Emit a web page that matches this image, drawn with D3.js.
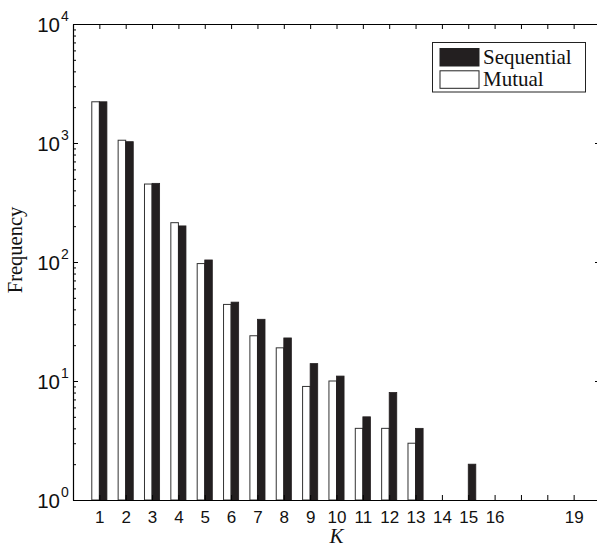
<!DOCTYPE html>
<html>
<head>
<meta charset="utf-8">
<script src="https://cdn.jsdelivr.net/npm/d3@7"></script>
<style>
  body { margin: 0; background: #fff; }
  svg { display: block; }
</style>
</head>
<body>
<svg></svg>
<script>
const width = 597;
const height = 547;

// data
const ks = [1, 2, 3, 4, 5, 6, 7, 8, 9, 10, 11, 12, 13, 14, 15, 16, 17, 18, 19];
const mutual = [2220, 1055, 452, 214, 97, 44, 24, 19, 9, 10, 4, 4, 3, 0, 0, 0, 0, 0, 0];
const sequential = [2220, 1026, 458, 201, 104, 46, 33, 23, 14, 11, 5, 8, 4, 0, 2, 0, 0, 0, 0];
const xTickLabels = ['1', '2', '3', '4', '5', '6', '7', '8', '9', '10', '11', '12', '13', '14', '15', '16', '', '', '19'];
const yMajor = [1, 10, 100, 1000, 10000];
const yExponents = ['0', '1', '2', '3', '4'];

const mLeft = 73, mRight = 600, mTop = 24, mBottom = 500;

const svg = d3.select('svg')
  .attr('width', width)
  .attr('height', height);

const x = d3.scaleLinear()
  .domain([0, 20])
  .range([mLeft, mRight]);

const y = d3.scaleLog()
  .domain([1, 10000])
  .range([mBottom, mTop]);

const bw = x(0.287) - x(0);
const black = '#231f20';

// minor log ticks
const yMinor = [];
for (let e = 0; e < 4; e++) {
  for (let m = 2; m <= 9; m++) yMinor.push(m * Math.pow(10, e));
}

const g = svg.append('g');

// bars
g.selectAll('rect.mutual')
  .data(ks.filter((k, i) => mutual[i] > 0))
  .enter()
  .append('rect')
  .attr('class', 'mutual')
  .attr('x', k => x(k) - bw)
  .attr('y', k => y(mutual[k - 1]))
  .attr('width', bw)
  .attr('height', k => y(1) - y(mutual[k - 1]))
  .attr('fill', '#fff')
  .attr('stroke', '#333')
  .attr('stroke-width', 1);

g.selectAll('rect.seq')
  .data(ks.filter((k, i) => sequential[i] > 0))
  .enter()
  .append('rect')
  .attr('class', 'seq')
  .attr('x', k => x(k))
  .attr('y', k => y(sequential[k - 1]))
  .attr('width', bw)
  .attr('height', k => y(1) - y(sequential[k - 1]))
  .attr('fill', black)
  .attr('stroke', black)
  .attr('stroke-width', 0.8);

// axes, ticks inward
function styleAxis(sel) {
  sel.selectAll('path').attr('stroke', '#000').attr('stroke-width', 1.2);
  sel.selectAll('line').attr('stroke', '#000').attr('stroke-width', 1);
}

const xb = svg.append('g')
  .attr('transform', `translate(0,${mBottom})`)
  .call(d3.axisBottom(x).tickValues(ks).tickSizeInner(-5).tickSizeOuter(0)
    .tickPadding(11).tickFormat((d, i) => xTickLabels[i]))
  .call(styleAxis);
xb.selectAll('text')
  .attr('font-family', '"Liberation Sans", Arial, sans-serif')
  .attr('font-size', 17)
  .attr('fill', '#111');

svg.append('g')
  .attr('transform', `translate(0,${mTop})`)
  .call(d3.axisTop(x).tickValues(ks).tickSizeInner(-5).tickSizeOuter(0).tickFormat(''))
  .call(styleAxis);

svg.append('g')
  .attr('transform', `translate(${mLeft},0)`)
  .call(d3.axisLeft(y).tickValues(yMajor).tickSizeInner(-5).tickSizeOuter(0).tickFormat(''))
  .call(styleAxis);
svg.append('g')
  .attr('transform', `translate(${mLeft},0)`)
  .call(d3.axisLeft(y).tickValues(yMinor).tickSizeInner(-3).tickSizeOuter(0).tickFormat(''))
  .call(a => a.select('path').remove())
  .call(styleAxis);

svg.append('g')
  .attr('transform', `translate(${mRight},0)`)
  .call(d3.axisRight(y).tickValues(yMajor).tickSizeInner(-5).tickSizeOuter(0).tickFormat(''))
  .call(styleAxis);
svg.append('g')
  .attr('transform', `translate(${mRight},0)`)
  .call(d3.axisRight(y).tickValues(yMinor).tickSizeInner(-3).tickSizeOuter(0).tickFormat(''))
  .call(a => a.select('path').remove())
  .call(styleAxis);

// y tick labels 10^n
const yl = svg.append('g')
  .attr('font-family', '"Liberation Sans", Arial, sans-serif')
  .attr('fill', '#111');
yMajor.forEach((v, i) => {
  yl.append('text')
    .attr('x', mLeft - 13)
    .attr('y', y(v) + 7.5)
    .attr('text-anchor', 'end')
    .attr('font-size', 20.5)
    .text('10');
  yl.append('text')
    .attr('x', mLeft - 12)
    .attr('y', y(v) - 3)
    .attr('font-size', 14)
    .text(yExponents[i]);
});

// axis titles
svg.append('text')
  .attr('transform', `translate(22,250) rotate(-90)`)
  .attr('text-anchor', 'middle')
  .attr('font-family', '"Liberation Serif", "Times New Roman", serif')
  .attr('font-size', 20.5)
  .attr('fill', '#111')
  .text('Frequency');

svg.append('text')
  .attr('x', x(10))
  .attr('y', 542.5)
  .attr('text-anchor', 'middle')
  .attr('font-family', '"Liberation Serif", "Times New Roman", serif')
  .attr('font-style', 'italic')
  .attr('font-size', 21)
  .attr('fill', '#111')
  .text('K');

// legend
const legend = svg.append('g');
legend.append('rect')
  .attr('x', 432.5).attr('y', 42.5)
  .attr('width', 153).attr('height', 49.5)
  .attr('fill', '#fff').attr('stroke', '#222').attr('stroke-width', 1);

const legendItems = [
  { name: 'Sequential', fill: black },
  { name: 'Mutual', fill: '#fff' }
];
legendItems.forEach((d, i) => {
  legend.append('rect')
    .attr('x', 440).attr('y', 48.5 + i * 22.3)
    .attr('width', 39).attr('height', 17.5)
    .attr('fill', d.fill).attr('stroke', '#222').attr('stroke-width', 1);
  legend.append('text')
    .attr('x', 483).attr('y', 63.5 + i * 22.6)
    .attr('font-family', '"Liberation Serif", "Times New Roman", serif')
    .attr('font-size', 21)
    .attr('fill', '#111')
    .text(d.name);
});
</script>
</body>
</html>
